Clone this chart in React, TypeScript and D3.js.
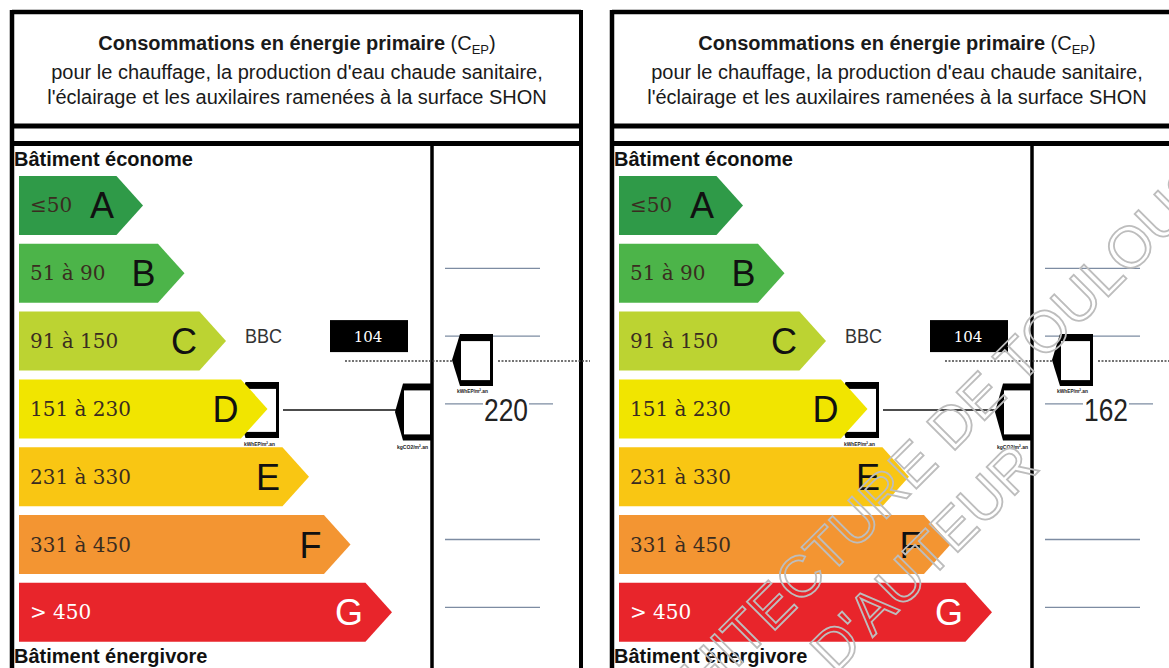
import React, { useEffect, useRef } from "react";
import * as d3 from "d3";

// classes de consommation
const classLetters = ["A", "B", "C", "D", "E", "F", "G"];
const classRanges = ["≤50", "51 à 90", "91 à 150", "151 à 230", "231 à 330", "331 à 450", "> 450"];
const classThresholds = [51, 91, 151, 231, 331, 451];
const classColors = ["#2f9a48", "#4cb449", "#bcd332", "#f1e500", "#f9c613", "#f39532", "#e8252b"];

const titleBold = "Consommations en énergie primaire";
const headerLines = [
  "pour le chauffage, la production d'eau chaude sanitaire,",
  "l'éclairage et les auxilaires ramenées à la surface SHON",
];
const topLabel = "Bâtiment économe";
const bottomLabel = "Bâtiment énergivore";

// valeurs des deux étiquettes
const panelValues = [220, 162];
const bbcLabel = "BBC";
const bbcValue = 104;
const bbcRow = "C";
const guideRows = ["B", "C", "D", "F", "G"];
const unitEnergy = "kWhEP/m².an";
const unitCo2 = "kgCO2/m².an";
const watermarkLines = ["ARCHITECTURE DE TOULOUSE", "D'AUTEUR"];

const SANS = "'Liberation Sans', Arial, sans-serif";
const NARROW = "'Liberation Sans Narrow', 'Arial Narrow', 'Liberation Sans', sans-serif";
const SERIF = "'DejaVu Serif', serif";

export default function App() {
  const ref = useRef<SVGSVGElement>(null);

  useEffect(() => {
    const width = 1169;
    const height = 668;
    const svg = d3.select(ref.current);
    svg.selectAll("*").remove();

    const panelX = d3.scaleOrdinal<number, number>().domain([0, 1]).range([0, 600]);

    // échelle verticale des classes
    const y = d3.scaleBand().domain(classLetters).range([176, 641.8]).paddingInner(0.13);
    // extrémité de chaque flèche
    const xTip = d3.scaleLinear().domain([0, classLetters.length - 1]).range([143, 392]);
    const toClass = d3.scaleThreshold<number, string>().domain(classThresholds).range(classLetters);
    const bw = y.bandwidth();
    const mid = (c: string) => (y(c) as number) + bw / 2;

    const arrow = d3.line().curve(d3.curveLinearClosed);

    function marker(g: any, tip: number, ym: number, w: number, h: number) {
      const t = ym - h / 2;
      const b = ym + h / 2;
      g.append("path")
        .attr("d", arrow([[tip, ym], [tip + 8, t], [tip + w, t], [tip + w, b], [tip + 8, b]]))
        .attr("fill", "#000");
      g.append("rect")
        .attr("x", tip + 9)
        .attr("y", t + 7)
        .attr("width", w - 12)
        .attr("height", h - 13)
        .attr("fill", "#fff");
    }

    function tiny(g: any, x: number, yy: number, txt: string) {
      g.append("text")
        .attr("x", x)
        .attr("y", yy)
        .attr("font-family", NARROW)
        .attr("font-size", 6)
        .attr("font-weight", "bold")
        .attr("textLength", 31)
        .attr("lengthAdjust", "spacingAndGlyphs")
        .attr("fill", "#222")
        .text(txt);
    }

    panelValues.forEach((value, p) => {
      const g = svg.append("g").attr("transform", `translate(${panelX(p)},0)`);
      const valueRow = toClass(value);

      // cadre
      const frame = [
        [12, 12, 581, 12, 4.5],
        [12, 10, 12, height, 4.5],
        [581, 10, 581, height, 4],
        [12, 126, 581, 126, 5],
        [12, 143.5, 581, 143.5, 5],
        [432, 143, 432, height, 3.5],
      ];
      frame.forEach(([x1, y1, x2, y2, sw]) => {
        g.append("line")
          .attr("x1", x1).attr("y1", y1).attr("x2", x2).attr("y2", y2)
          .attr("stroke", "#000").attr("stroke-width", sw);
      });

      // en-tête
      const title = g.append("text")
        .attr("x", 297).attr("y", 50)
        .attr("text-anchor", "middle")
        .attr("font-family", SANS)
        .attr("font-size", 20)
        .attr("fill", "#1a1a1a");
      title.append("tspan").attr("font-weight", "bold").text(titleBold);
      title.append("tspan").text(" (C");
      title.append("tspan").attr("font-size", 13).attr("dy", 4).text("EP");
      title.append("tspan").attr("dy", -4).text(")");
      headerLines.forEach((line, i) => {
        g.append("text")
          .attr("x", 297).attr("y", 79 + i * 25)
          .attr("text-anchor", "middle")
          .attr("font-family", SANS)
          .attr("font-size", 20)
          .attr("fill", "#1a1a1a")
          .text(line);
      });

      g.append("text").attr("x", 14).attr("y", 166)
        .attr("font-family", SANS).attr("font-size", 20).attr("font-weight", "bold")
        .attr("fill", "#111").text(topLabel);
      g.append("text").attr("x", 14).attr("y", 663)
        .attr("font-family", SANS).attr("font-size", 20).attr("font-weight", "bold")
        .attr("fill", "#111").text(bottomLabel);

      // lignes guides de la colonne de droite
      guideRows.forEach((c) => {
        g.append("line")
          .attr("x1", 445).attr("x2", c === valueRow ? 553 : 540)
          .attr("y1", mid(c) - 5).attr("y2", mid(c) - 5)
          .attr("stroke", "#7d8ca2").attr("stroke-width", 1.3);
      });

      // repère de la valeur (derrière la flèche)
      const ym = mid(valueRow);
      const rowIdx = classLetters.indexOf(valueRow);
      const bracketTip = xTip(rowIdx) - 30;
      marker(g, bracketTip, ym + 1, 279 - bracketTip, 56);

      // flèches des classes
      classLetters.forEach((c, i) => {
        const top = y(c) as number;
        const tip = xTip(i);
        const d = bw * 0.45;
        g.append("path")
          .attr("d", arrow([[19, top], [tip - d, top], [tip, top + bw / 2], [tip - d, top + bw], [19, top + bw]]))
          .attr("fill", classColors[i]);
        g.append("text")
          .attr("x", 30).attr("y", top + bw / 2 + 7)
          .attr("font-family", SERIF).attr("font-size", 20)
          .attr("fill", c === "G" ? "#fff" : "#3a2c20")
          .text(classRanges[i]);
        g.append("text")
          .attr("x", tip - 29).attr("y", top + bw / 2 + 13)
          .attr("text-anchor", "end")
          .attr("font-family", SANS).attr("font-size", 36)
          .attr("fill", c === "G" ? "#fff" : "#111")
          .text(c);
      });

      tiny(g, 244, ym + 37, unitEnergy);

      // BBC
      const yb = mid(bbcRow);
      g.append("text").attr("x", 245).attr("y", yb + 2)
        .attr("font-family", NARROW).attr("font-size", 20)
        .attr("textLength", 37).attr("lengthAdjust", "spacingAndGlyphs")
        .attr("fill", "#333").text(bbcLabel);
      g.append("rect").attr("x", 330).attr("y", yb - 21).attr("width", 78).attr("height", 32).attr("fill", "#000");
      g.append("text").attr("x", 368).attr("y", yb + 1)
        .attr("text-anchor", "middle")
        .attr("font-family", SERIF).attr("font-size", 15)
        .attr("fill", "#fff").text(bbcValue);

      const yDot = yb + 20;
      g.append("line").attr("x1", 345).attr("x2", 452).attr("y1", yDot).attr("y2", yDot)
        .attr("stroke", "#444").attr("stroke-width", 1.5).attr("stroke-dasharray", "2,1.5");
      g.append("line").attr("x1", 498).attr("x2", 590).attr("y1", yDot).attr("y2", yDot)
        .attr("stroke", "#444").attr("stroke-width", 1.5).attr("stroke-dasharray", "2,1.5");
      marker(g, 452, yDot - 1, 41, 52);
      tiny(g, 457, yDot + 32, unitEnergy);

      // ligne vers le repère CO2
      g.append("line").attr("x1", 283).attr("x2", 396).attr("y1", ym + 1).attr("y2", ym + 1)
        .attr("stroke", "#111").attr("stroke-width", 1.5);
      marker(g, 395, ym + 3, 38, 57);
      tiny(g, 397, ym + 40, unitCo2);

      // valeur
      g.append("rect").attr("x", 483).attr("y", ym - 11).attr("width", 46).attr("height", 24).attr("fill", "#fff");
      g.append("text").attr("x", 484).attr("y", ym + 12)
        .attr("font-family", NARROW).attr("font-size", 31)
        .attr("textLength", 44).attr("lengthAdjust", "spacingAndGlyphs")
        .attr("fill", "#222").text(value);
    });

    // filigrane
    const wm = [
      [619, 786],
      [835, 675],
    ];
    watermarkLines.forEach((txt, i) => {
      svg.append("text")
        .attr("transform", `translate(${wm[i][0]},${wm[i][1]}) rotate(-45)`)
        .attr("font-family", SANS).attr("font-size", 58)
        .attr("fill", "none").attr("stroke", "#bdbdbd").attr("stroke-width", 1.8)
        .text(txt);
    });

    svg.attr("width", width).attr("height", height);
  }, []);

  return (
    <svg
      ref={ref}
      width={1169}
      height={668}
      style={{ position: "absolute", left: 0, top: 0, background: "#fff" }}
    />
  );
}
